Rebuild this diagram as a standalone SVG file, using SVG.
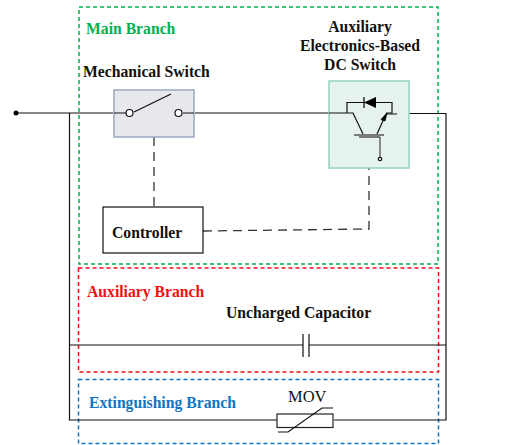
<svg xmlns="http://www.w3.org/2000/svg" width="508" height="445" viewBox="0 0 508 445">
<style>
.w{fill:none;stroke:#111;stroke-width:1.2}
.c{fill:none;stroke:#333;stroke-width:1.3;stroke-dasharray:9 6}
.b{fill:none;stroke-width:1.5;stroke-dasharray:4 3}
text{font-family:"Liberation Serif",serif;font-weight:bold;font-size:15.700px;fill:#111}
.t{fill:#fff;stroke:#111;stroke-width:1.2}
</style>
<rect width="508" height="445" fill="#fff"/>
<g id="branches">
<rect class="b" x="79" y="7" width="359" height="257" stroke="#00b050"/>
<rect class="b" x="78.500" y="268" width="360" height="104" stroke="#f01010"/>
<rect class="b" x="78.500" y="379.500" width="360" height="64" stroke="#0f75c4"/>
</g>
<g id="connectors">
<path class="w" d="M16 113H113M195 113H329M398 113.500H446V420H334M277 420H69.500V113M69.500 345H303M309 345H446"/>
<circle cx="16" cy="113" r="2.500" fill="#000"/>
<path class="c" d="M154 137V207"/>
<path class="c" d="M203 231L369 229V168"/>
</g>
<g id="main-label"><text x="86" y="34" style="fill:#00b050">Main Branch</text></g>
<g id="mechanical-switch">
<text x="83" y="77">Mechanical Switch</text>
<rect x="114" y="90" width="80" height="47" fill="#e7e8ed" stroke="#9aa8c0" stroke-width="1.500"/>
<path class="w" d="M134 112L171 94"/>
<path class="w" d="M114 113H126M183 113H194"/>
<circle class="t" cx="129.500" cy="113" r="3.500"/>
<circle class="t" cx="178.500" cy="113" r="3.500"/>
</g>
<g id="dc-switch">
<text x="360" y="32" text-anchor="middle">Auxiliary</text>
<text x="360" y="51" text-anchor="middle">Electronics-Based</text>
<text x="360" y="70" text-anchor="middle">DC Switch</text>
<rect x="329" y="81" width="80" height="87" fill="#e6f2ee" stroke="#93d4bb" stroke-width="1.500"/>
<path class="w" d="M329 113H353L363 134M347 113V102.500H392V113H386"/>
<path d="M364 102.500L376 97V108Z" fill="#000"/>
<path d="M364 97V108" stroke="#000" stroke-width="1.200"/>
<path class="w" d="M377 134L386 114H397"/>
<path d="M387 113L381 119.500L385 121Z" fill="#000" stroke="#000" stroke-width="0.800"/>
<path d="M354 135H384M359 137H380" stroke="#555" stroke-width="1.500" fill="none"/>
<path d="M380 137V157" stroke="#444" stroke-width="1.200"/>
<circle class="t" cx="380" cy="159" r="1.700"/>
</g>
<g id="controller">
<rect x="103" y="207" width="100" height="46" fill="#fff" stroke="#111" stroke-width="1.200"/>
<text x="112" y="238">Controller</text>
</g>
<g id="auxiliary-branch">
<text x="87" y="297" style="fill:#f01010">Auxiliary Branch</text>
<text x="226" y="318">Uncharged Capacitor</text>
<path class="w" d="M303 334V357M309 334V357"/>
</g>
<g id="extinguishing-branch">
<text x="89" y="408" style="fill:#0f75c4">Extinguishing Branch</text>
<text x="288" y="402" style="font-weight:normal;font-size:16.500px">MOV</text>
<rect x="277" y="414" width="56" height="13.500" fill="#fff" stroke="#222" stroke-width="1.200"/>
<path class="w" d="M278 432H288L322 408H333"/>
</g>
</svg>
